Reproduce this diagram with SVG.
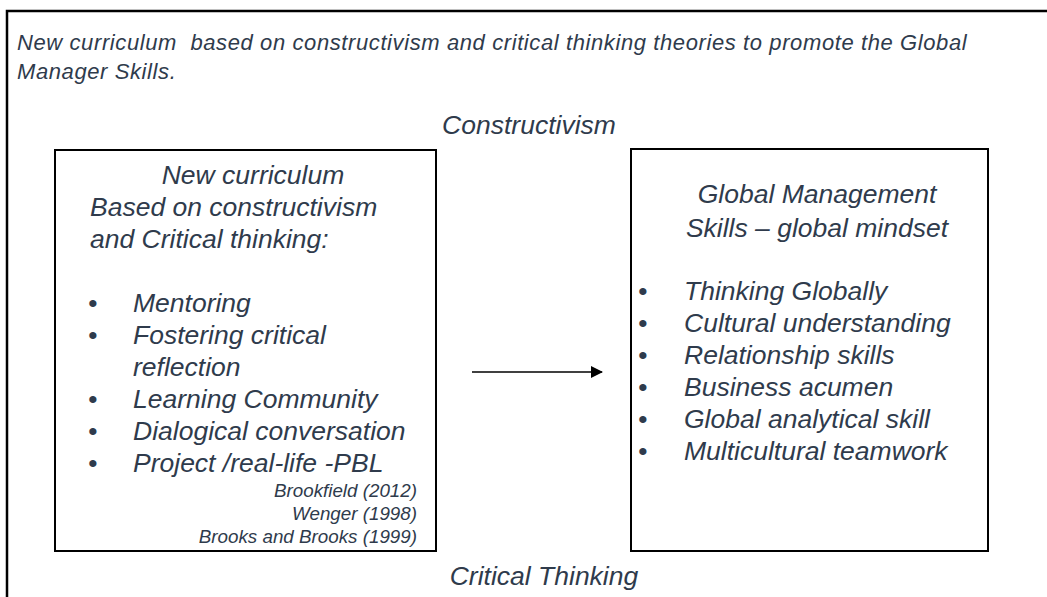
<svg xmlns="http://www.w3.org/2000/svg" width="1047" height="597" viewBox="0 0 1047 597">
  <style>
    .t { font-family: "Liberation Sans", Arial, sans-serif; font-style: italic; fill: #2f3b4c; }
    .head { font-size: 22px; letter-spacing: 0.6px; }
    .axis { font-size: 26.5px; text-anchor: middle; }
    .body { font-size: 26.5px; }
    .mid { text-anchor: middle; }
    .cite { font-size: 18.8px; text-anchor: end; }
    .box { fill: #ffffff; stroke: #000000; stroke-width: 2; }
  </style>
  <defs>
    <marker id="arrow" markerWidth="12" markerHeight="12" refX="11" refY="6" orient="auto" markerUnits="userSpaceOnUse">
      <path d="M0,0 L12,6 L0,12 Z" fill="#000000"/>
    </marker>
  </defs>

  <rect width="1047" height="597" fill="#ffffff"/>

  <!-- outer frame (open to the right and bottom) -->
  <path d="M7,597 V11 H1047" fill="none" stroke="#000000" stroke-width="2.5"/>

  <!-- heading -->
  <text class="t head" x="17" y="50" xml:space="preserve">New curriculum  based on constructivism and critical thinking theories to promote the Global</text>
  <text class="t head" x="17" y="79">Manager Skills.</text>

  <!-- axis labels -->
  <text class="t axis" x="529" y="134">Constructivism</text>
  <text class="t axis" x="544" y="585">Critical Thinking</text>

  <!-- curriculum box -->
  <g id="curriculum">
    <rect class="box" x="55" y="150" width="381" height="401"/>
    <text class="t body mid" x="253" y="184">New curriculum</text>
    <text class="t body" x="90" y="216">Based on constructivism</text>
    <text class="t body" x="90" y="248">and Critical thinking:</text>
    <g class="t body">
      <text x="88" y="312">•</text><text x="133" y="312">Mentoring</text>
      <text x="88" y="344">•</text><text x="133" y="344">Fostering critical</text>
      <text x="133" y="376">reflection</text>
      <text x="88" y="408">•</text><text x="133" y="408">Learning Community</text>
      <text x="88" y="440">•</text><text x="133" y="440">Dialogical conversation</text>
      <text x="88" y="472">•</text><text x="133" y="472">Project /real-life -PBL</text>
    </g>
    <text class="t cite" x="417" y="497">Brookfield (2012)</text>
    <text class="t cite" x="417" y="520">Wenger (1998)</text>
    <text class="t cite" x="417" y="543">Brooks and Brooks (1999)</text>
  </g>

  <!-- skills box -->
  <g id="skills">
    <rect class="box" x="631" y="149" width="357" height="402"/>
    <text class="t body mid" x="817" y="203">Global Management</text>
    <text class="t body mid" x="817" y="237">Skills – global mindset</text>
    <g class="t body">
      <text x="638" y="300">•</text><text x="684" y="300">Thinking Globally</text>
      <text x="638" y="332">•</text><text x="684" y="332">Cultural understanding</text>
      <text x="638" y="364">•</text><text x="684" y="364">Relationship skills</text>
      <text x="638" y="396">•</text><text x="684" y="396">Business acumen</text>
      <text x="638" y="428">•</text><text x="684" y="428">Global analytical skill</text>
      <text x="638" y="460">•</text><text x="684" y="460">Multicultural teamwork</text>
    </g>
  </g>

  <!-- connectors -->
  <g id="connectors">
    <line x1="472" y1="372" x2="602" y2="372" stroke="#000000" stroke-width="1.5" marker-end="url(#arrow)"/>
  </g>
</svg>
